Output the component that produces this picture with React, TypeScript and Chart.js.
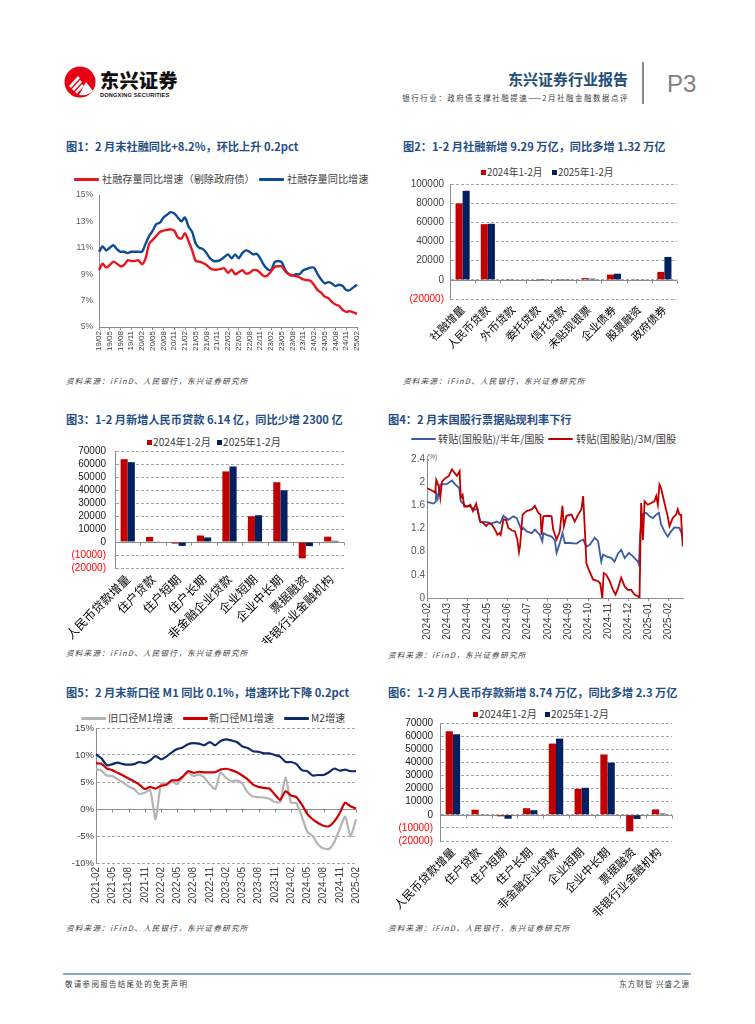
import React, { useEffect, useRef } from "react";
import { Chart, registerables } from "chart.js";

Chart.register(...registerables);

const SANS = "'Liberation Sans', 'Noto Sans CJK SC', sans-serif";
const NARROW = "'Liberation Sans Narrow', 'Liberation Sans', 'Noto Sans CJK SC', sans-serif";
const CJK = "'Noto Sans CJK SC', 'Liberation Sans', sans-serif";
const TITLE_COLOR = "#1F4E84";
const BAR_RED = "#C00000";
const BAR_NAVY = "#002060";

// ---------- Chart 1: 社融存量同比 ----------
const c1Months = [
  "19/02", "19/03", "19/04", "19/05", "19/06", "19/07", "19/08", "19/09", "19/10", "19/11", "19/12",
  "20/01", "20/02", "20/03", "20/04", "20/05", "20/06", "20/07", "20/08", "20/09", "20/10", "20/11", "20/12",
  "21/01", "21/02", "21/03", "21/04", "21/05", "21/06", "21/07", "21/08", "21/09", "21/10", "21/11", "21/12",
  "22/01", "22/02", "22/03", "22/04", "22/05", "22/06", "22/07", "22/08", "22/09", "22/10", "22/11", "22/12",
  "23/01", "23/02", "23/03", "23/04", "23/05", "23/06", "23/07", "23/08", "23/09", "23/10", "23/11", "23/12",
  "24/01", "24/02", "24/03", "24/04", "24/05", "24/06", "24/07", "24/08", "24/09", "24/10", "24/11", "24/12",
  "25/01", "25/02",
];
const c1ExGov = [
  9.3, 9.8, 9.5, 9.7, 9.95, 9.8, 9.6, 9.7, 10.05, 10.0, 10.0,
  10.05, 9.75, 10.2, 11.3, 11.6, 11.9, 12.2, 12.3, 12.35, 12.4, 12.3, 11.8,
  11.7, 12.1, 11.5, 10.8, 10.0, 9.95, 9.85, 9.7, 9.45, 9.35, 9.35, 9.4,
  9.45, 9.1, 9.35, 9.0, 9.15, 9.3, 9.05, 9.1, 9.3, 9.3, 9.1, 8.85,
  8.9, 9.2, 9.55, 9.6, 9.6, 9.2, 9.0, 8.9, 8.85, 8.75, 8.6, 8.55,
  8.5, 8.2, 7.8, 7.6, 7.3, 7.2, 6.9, 6.7, 6.6, 6.3, 6.15, 6.2,
  6.1, 6.0,
];
const c1Total = [
  10.7, 11.1, 10.8, 11.0, 11.2, 10.9, 10.7, 10.7, 10.6, 10.7, 10.7,
  10.7, 10.7, 11.3, 11.9, 12.3, 12.8, 12.9, 13.3, 13.5, 13.7, 13.6, 13.3,
  13.0, 13.3, 12.6, 12.2, 11.3, 11.0, 10.9, 10.6, 10.2, 10.0, 10.0, 10.1,
  10.3, 10.5, 10.2, 10.5, 10.2, 10.6, 10.8, 10.7, 10.5, 10.55, 10.2, 9.7,
  9.4, 9.3, 9.9, 10.0, 9.9, 9.3, 9.0, 8.9, 9.0, 9.0, 9.3, 9.4,
  9.5, 9.5, 9.0, 8.6, 8.3, 8.4, 8.3, 8.1, 8.2, 8.1, 7.8, 7.8,
  8.0, 8.2,
];

// ---------- Chart 2: 社融分项 ----------
const c2Cats = ["社融增量", "人民币贷款", "外币贷款", "委托贷款", "信托贷款", "未贴现银票", "企业债券", "股票融资", "政府债券"];
const c2Y2024 = [79700, 58100, 800, -300, 900, 1800, 5500, 700, 8300];
const c2Y2025 = [92900, 58500, -500, 100, 300, 1200, 6400, 600, 23900];

// ---------- Chart 3 / 6: 人民币贷款分项 ----------
const c3Cats = ["人民币贷款增量", "住户贷款", "住户短期", "住户长期", "非金融企业贷款", "企业短期", "企业中长期", "票据融资", "非银行业金融机构"];
const c3Y2024 = [63700, 3900, -1200, 5000, 54300, 19800, 46000, -12600, 4100];
const c3Y2025 = [61400, 500, -3000, 3500, 58100, 20600, 39800, -3200, 900];

// ---------- Chart 4: 票据贴现利率 ----------
const c4MonthLabels = ["2024-02", "2024-03", "2024-04", "2024-05", "2024-06", "2024-07", "2024-08", "2024-09", "2024-10", "2024-11", "2024-12", "2025-01", "2025-02"];
const c4YTicks = [0, 0.4, 0.8, 1.2, 1.6, 2, 2.4];
// [month offset from 2024-02, rate %]
const c4HalfYear: [number, number][] = [
  [0.0, 1.66], [0.33, 1.63], [0.43, 1.66], [0.46, 1.81], [0.53, 1.72], [0.66, 1.96], [0.99, 1.97], [1.24, 2.03],
  [1.4, 1.96], [1.6, 1.9], [1.68, 1.67], [1.9, 1.59], [2.15, 1.58], [2.39, 1.52], [2.51, 1.55], [2.64, 1.32],
  [2.97, 1.31], [3.22, 1.29], [3.47, 1.32], [3.63, 1.29], [3.8, 1.42], [4.04, 1.35], [4.29, 1.41], [4.46, 1.38],
  [4.62, 1.24], [4.7, 1.17], [4.79, 1.21], [4.95, 1.15], [5.2, 1.12], [5.36, 1.18], [5.61, 1.09], [5.73, 0.98],
  [5.78, 1.12], [5.94, 1.09], [6.19, 1.06], [6.35, 1.0], [6.44, 0.78], [6.6, 0.95], [6.73, 1.12], [6.85, 0.95],
  [7.1, 0.95], [7.43, 0.94], [7.59, 0.98], [7.76, 1.01], [7.92, 0.89], [8.09, 0.92], [8.33, 1.04], [8.5, 0.98],
  [8.66, 0.63], [8.75, 0.75], [8.91, 0.72], [9.16, 0.69], [9.32, 0.63], [9.49, 0.77], [9.65, 0.83], [9.82, 0.69],
  [10.03, 0.78], [10.23, 0.72], [10.48, 0.63], [10.53, 0.58], [10.59, 1.1], [10.69, 1.44], [10.89, 1.47], [11.06, 1.41],
  [11.22, 1.38], [11.39, 1.44], [11.52, 1.47], [11.63, 1.27], [11.8, 1.15], [11.96, 1.06], [12.13, 1.15], [12.29, 1.22],
  [12.54, 1.21], [12.71, 1.06],
];
const c4ThreeMonth: [number, number][] = [
  [0.0, 1.9], [0.33, 1.84], [0.41, 1.82], [0.46, 2.04], [0.58, 1.93], [0.66, 1.73], [0.74, 2.01], [0.91, 2.07],
  [1.07, 2.1], [1.24, 2.22], [1.35, 2.17], [1.49, 2.11], [1.62, 2.19], [1.68, 1.73], [1.77, 1.78], [1.85, 1.58],
  [2.01, 1.58], [2.15, 1.61], [2.28, 1.5], [2.44, 1.63], [2.56, 1.44], [2.64, 1.32], [2.81, 1.29], [2.94, 1.24],
  [3.05, 1.29], [3.22, 1.27], [3.38, 1.18], [3.5, 1.09], [3.6, 1.12], [3.66, 1.09], [3.8, 1.36], [3.93, 1.35],
  [4.04, 1.21], [4.21, 1.17], [4.37, 1.15], [4.49, 1.01], [4.57, 0.79], [4.62, 0.89], [4.75, 1.44], [4.95, 1.5],
  [5.2, 1.53], [5.36, 1.59], [5.53, 1.47], [5.64, 1.44], [5.69, 1.09], [5.78, 1.41], [6.02, 1.42], [6.19, 1.41],
  [6.27, 1.18], [6.44, 1.01], [6.6, 1.15], [6.73, 1.59], [6.8, 1.24], [6.93, 1.42], [7.18, 1.44], [7.34, 1.32],
  [7.51, 1.44], [7.67, 1.53], [7.76, 1.76], [7.84, 1.2], [7.92, 0.6], [8.0, 0.52], [8.25, 0.32], [8.5, 0.29],
  [8.61, 0.25], [8.71, 0.0], [8.78, 0.43], [8.91, 0.4], [9.08, 0.29], [9.24, 0.14], [9.37, 0.06], [9.49, 0.17],
  [9.65, 0.35], [9.82, 0.2], [9.98, 0.14], [10.15, 0.14], [10.31, 0.06], [10.48, 0.03], [10.56, 0.0], [10.64, 1.64],
  [10.73, 1.0], [10.81, 1.67], [10.97, 1.61], [11.14, 1.64], [11.3, 1.67], [11.39, 1.76], [11.47, 1.61], [11.55, 1.96],
  [11.63, 1.9], [11.8, 1.64], [11.96, 1.41], [12.05, 1.24], [12.21, 1.38], [12.38, 1.44], [12.46, 1.53], [12.54, 1.44],
  [12.62, 1.44], [12.67, 1.12], [12.71, 0.89],
];

// ---------- Chart 5: M1 / M2 ----------
const c5Months = [
  "2021-02", "2021-03", "2021-04", "2021-05", "2021-06", "2021-07", "2021-08", "2021-09", "2021-10", "2021-11", "2021-12",
  "2022-01", "2022-02", "2022-03", "2022-04", "2022-05", "2022-06", "2022-07", "2022-08", "2022-09", "2022-10", "2022-11", "2022-12",
  "2023-01", "2023-02", "2023-03", "2023-04", "2023-05", "2023-06", "2023-07", "2023-08", "2023-09", "2023-10", "2023-11", "2023-12",
  "2024-01", "2024-02", "2024-03", "2024-04", "2024-05", "2024-06", "2024-07", "2024-08", "2024-09", "2024-10", "2024-11", "2024-12",
  "2025-01", "2025-02",
];
const c5OldM1 = [
  7.4, 7.1, 6.2, 6.1, 5.5, 4.9, 4.2, 3.7, 2.8, 3.0, 3.5,
  -1.9, 4.7, 4.7, 5.1, 4.6, 5.8, 6.7, 6.1, 6.4, 5.8, 4.6, 3.7,
  6.7, 5.8, 5.1, 5.3, 4.7, 3.1, 2.3, 2.2, 2.1, 1.9, 1.3, 1.3,
  5.9, 1.2, 1.1, -1.4, -4.2, -5.0, -6.6, -7.3, -7.4, -6.1, -3.7, -1.4,
  -5.1, -1.9,
];
const c5NewM1 = [
  8.45, 8.4, 7.5, 7.2, 6.7, 6.2, 5.65, 5.15, 4.5, 3.7, 4.1,
  3.8, 4.3, 4.5, 5.3, 5.3, 6.0, 7.0, 6.7, 6.9, 6.8, 6.8, 6.8,
  7.3, 7.45, 7.2, 6.8, 6.2, 5.5, 4.5, 4.1, 3.9, 3.8, 2.7, 1.7,
  3.3, 2.5, 2.2, 0.8, -0.9, -1.9, -2.6, -3.1, -3.2, -2.3, -0.75, 1.2,
  0.5, 0.1,
];
const c5M2 = [
  10.1, 9.4, 8.1, 8.3, 8.6, 8.3, 8.2, 8.3, 8.7, 8.5, 9.0,
  9.8, 9.2, 9.7, 10.5, 11.1, 11.4, 12.0, 12.2, 12.1, 11.8, 12.4, 11.8,
  12.6, 12.9, 12.7, 12.4, 11.6, 11.3, 10.7, 10.6, 10.3, 10.3, 10.0, 9.7,
  8.7, 8.7, 8.3, 7.2, 7.0, 6.2, 6.3, 6.3, 6.8, 7.5, 7.1, 7.3,
  7.0, 7.0,
];

// ---------- plugin: solid zero line with small ticks ----------
const zeroLinePlugin = {
  id: "zeroLine",
  beforeDatasetsDraw(chart: any, _args: any, opts: any) {
    if (!opts || !opts.enabled) return;
    const { ctx, chartArea } = chart;
    const x = chart.scales.x;
    const y = chart.scales.y;
    const py = Math.round(y.getPixelForValue(0)) + 0.5;
    ctx.save();
    ctx.strokeStyle = opts.color || "#808080";
    ctx.lineWidth = 1;
    ctx.beginPath();
    ctx.moveTo(chartArea.left, py);
    ctx.lineTo(chartArea.right, py);
    const len = opts.tickLen || 3;
    if (opts.mode === "between") {
      const n = x.ticks.length;
      for (let i = 1; i <= n; i++) {
        const px = Math.round(x.left + (x.width * i) / n) + 0.5;
        ctx.moveTo(px, py);
        ctx.lineTo(px, py + len);
      }
    } else if (opts.mode === "every") {
      for (let i = 0; i < x.ticks.length; i += opts.step) {
        const px = Math.round(x.getPixelForTick(i)) + 0.5;
        ctx.moveTo(px, py);
        ctx.lineTo(px, py + len);
      }
    }
    ctx.stroke();
    ctx.restore();
  },
};

const baseOpts = (padding: any) => ({
  animation: false,
  responsive: false,
  events: [],
  layout: { padding },
  plugins: { legend: { display: false }, tooltip: { enabled: false } },
});

function fixX(h: number) {
  return (s: any) => {
    s.height = h;
    s.paddingLeft = 0;
    s.paddingRight = 0;
  };
}
function fixY(w: number) {
  return (s: any) => {
    s.width = w;
    s.paddingTop = 0;
    s.paddingBottom = 0;
  };
}
const negLabel = (v: number) => (v < 0 ? `(${-v})` : `${v}`);

function chart1Config(): any {
  return {
    type: "line",
    data: {
      labels: c1Months,
      datasets: [
        { label: "社融存量同比增速（剔除政府债）", data: c1ExGov, borderColor: "#E8161E", borderWidth: 2.4, pointRadius: 0, tension: 0.25, order: 1 },
        { label: "社融存量同比增速", data: c1Total, borderColor: "#0E4C96", borderWidth: 2.4, pointRadius: 0, tension: 0.25, order: 2 },
      ],
    },
    options: {
      ...baseOpts({ top: 9, right: 10, left: 0, bottom: 0 }),
      scales: {
        x: {
          offset: false,
          grid: { display: true, drawOnChartArea: false, drawTicks: true, tickLength: 3, color: (c: any) => (c.index % 3 === 0 ? "#8C8C8C" : "rgba(0,0,0,0)") },
          border: { display: true, color: "#8C8C8C" },
          ticks: { autoSkip: false, minRotation: 90, maxRotation: 90, padding: 1, color: "#404040", font: { family: NARROW, size: 8 }, callback: (_v: any, i: number) => (i % 3 === 0 ? c1Months[i] : "") },
          afterFit: fixX(31),
        },
        y: {
          min: 5,
          max: 15,
          ticks: { autoSkip: false, stepSize: 2, padding: 6, color: "#595959", font: { family: NARROW, size: 8.5 }, callback: (v: any) => `${v}%` },
          grid: { display: false, drawTicks: false },
          border: { display: true, color: "#8C8C8C" },
          afterFit: fixY(37),
        },
      },
    },
    plugins: [],
  };
}

function barConfig(cats: string[], a: number[], b: number[], opt: any): any {
  return {
    type: "bar",
    data: {
      labels: cats,
      datasets: [
        { label: "2024年1-2月", data: a, backgroundColor: BAR_RED, barPercentage: 1, categoryPercentage: opt.catPct },
        { label: "2025年1-2月", data: b, backgroundColor: BAR_NAVY, barPercentage: 1, categoryPercentage: opt.catPct },
      ],
    },
    options: {
      ...baseOpts(opt.padding),
      plugins: { legend: { display: false }, tooltip: { enabled: false }, zeroLine: { enabled: true, mode: "between", color: "#8C8C8C", tickLen: 3 } },
      scales: {
        x: {
          grid: { display: false, drawTicks: false },
          border: { display: false },
          ticks: { autoSkip: false, minRotation: 45, maxRotation: 45, padding: opt.xPad, color: "#000", font: { family: CJK, size: opt.xFont } },
          afterFit: fixX(opt.xH),
        },
        y: {
          min: opt.min,
          max: opt.max,
          ticks: {
            autoSkip: false,
            stepSize: opt.step,
            padding: opt.yPad,
            color: (c: any) => (c.tick && c.tick.value < 0 ? "#FF0000" : opt.yColor),
            font: { family: SANS, size: opt.yFont },
            callback: (v: any) => negLabel(v),
          },
          grid: { display: true, drawTicks: false, color: "#A6A6A6", lineWidth: 1 },
          border: { display: true, color: "#8C8C8C", dash: [3, 2] },
          afterFit: fixY(opt.yW),
        },
      },
    },
    plugins: [zeroLinePlugin],
  };
}

function chart4Config(): any {
  return {
    type: "line",
    data: {
      datasets: [
        { label: "转贴(国股贴)/3M/国股", data: c4ThreeMonth.map(([x, y]) => ({ x, y })), borderColor: "#C00000", borderWidth: 1.8, pointRadius: 0, tension: 0, order: 1 },
        { label: "转贴(国股贴)/半年/国股", data: c4HalfYear.map(([x, y]) => ({ x, y })), borderColor: "#3A5BA5", borderWidth: 1.8, pointRadius: 0, tension: 0, order: 2 },
      ],
    },
    options: {
      ...baseOpts({ top: 9, right: 7, left: 0, bottom: 0 }),
      scales: {
        x: {
          type: "linear",
          min: 0,
          max: 12.72,
          afterBuildTicks: (s: any) => {
            s.ticks = c4MonthLabels.map((_l, i) => ({ value: i }));
          },
          grid: { display: true, drawOnChartArea: false, drawTicks: true, tickLength: 3, color: "#8C8C8C" },
          border: { display: true, color: "#8C8C8C" },
          ticks: { autoSkip: false, minRotation: 90, maxRotation: 90, padding: 2, color: "#404040", font: { family: SANS, size: 10 }, callback: (v: any) => c4MonthLabels[Math.round(v)] ?? "" },
          afterFit: fixX(42),
        },
        y: {
          min: 0,
          max: 2.4,
          afterBuildTicks: (s: any) => {
            s.ticks = c4YTicks.map((v) => ({ value: v }));
          },
          ticks: { autoSkip: false, padding: 2, color: "#595959", font: { family: SANS, size: 10 }, callback: (v: any) => `${Math.round(v * 10) / 10}` },
          grid: { display: false, drawTicks: false },
          border: { display: true, color: "#8C8C8C" },
          afterFit: fixY(42),
        },
      },
    },
    plugins: [],
  };
}

function chart5Config(): any {
  return {
    type: "line",
    data: {
      labels: c5Months,
      datasets: [
        { label: "M2增速", data: c5M2, borderColor: "#0D2A6B", borderWidth: 2.2, pointRadius: 0, tension: 0.2, order: 1 },
        { label: "新口径M1增速", data: c5NewM1, borderColor: "#D00000", borderWidth: 2.2, pointRadius: 0, tension: 0.2, order: 2 },
        { label: "旧口径M1增速", data: c5OldM1, borderColor: "#B4B4B4", borderWidth: 2.2, pointRadius: 0, tension: 0.2, order: 3 },
      ],
    },
    options: {
      ...baseOpts({ top: 8, right: 6, left: 0, bottom: 0 }),
      plugins: { legend: { display: false }, tooltip: { enabled: false }, zeroLine: { enabled: true, mode: "every", step: 3, color: "#8C8C8C", tickLen: 3 } },
      scales: {
        x: {
          offset: false,
          grid: { display: false, drawTicks: false },
          border: { display: false },
          ticks: { autoSkip: false, minRotation: 90, maxRotation: 90, padding: 4, color: "#404040", font: { family: SANS, size: 10 }, callback: (_v: any, i: number) => (i % 3 === 0 ? c5Months[i] : "") },
          afterFit: fixX(49),
        },
        y: {
          min: -10,
          max: 15,
          ticks: { autoSkip: false, stepSize: 5, padding: 2, color: "#404040", font: { family: SANS, size: 9.5 }, callback: (v: any) => `${v}%` },
          grid: { display: true, drawTicks: false, color: (c: any) => (c.tick && c.tick.value === 0 ? "rgba(0,0,0,0)" : "#A6A6A6") },
          border: { display: true, color: "#8C8C8C", dash: [3, 2] },
          afterFit: fixY(34),
        },
      },
    },
    plugins: [zeroLinePlugin],
  };
}

function ChartBox({ left, top, width, height, config }: { left: number; top: number; width: number; height: number; config: () => any }) {
  const ref = useRef<HTMLCanvasElement | null>(null);
  useEffect(() => {
    if (!ref.current) return;
    const chart = new Chart(ref.current, config());
    return () => chart.destroy();
  }, []);
  return (
    <div style={{ position: "absolute", left, top, width, height }}>
      <canvas ref={ref} width={width} height={height} style={{ width, height, display: "block" }} />
    </div>
  );
}

function T({ x, y, size, children, style, right }: { x: number; y: number; size: number; children: any; style?: any; right?: boolean }) {
  const pos: any = right ? { right: 755 - x } : { left: x };
  return (
    <div style={{ position: "absolute", ...pos, top: y - size * 0.65, fontSize: size, lineHeight: `${size * 1.3}px`, whiteSpace: "nowrap", fontFamily: CJK, ...style }}>
      {children}
    </div>
  );
}

const LineMark = ({ x, y, w, color, h = 3 }: any) => (
  <div style={{ position: "absolute", left: x, top: y - h / 2, width: w, height: h, background: color, borderRadius: 1 }} />
);
const SqMark = ({ x, y, color, s = 5 }: any) => <div style={{ position: "absolute", left: x, top: y - s / 2, width: s, height: s, background: color }} />;

const Title = ({ x, y, children }: any) => (
  <T x={x} y={y} size={11.2} style={{ fontWeight: 700, color: TITLE_COLOR }}>
    {children}
  </T>
);
const Source = ({ x, y, children }: any) => (
  <T x={x} y={y} size={7.6} style={{ fontStyle: "italic", color: "#3A3A3A", letterSpacing: "1.2px" }}>
    {children}
  </T>
);
const LegText = ({ x, y, children, size = 10.2 }: any) => (
  <T x={x} y={y} size={size} style={{ color: "#404040" }}>
    {children}
  </T>
);

export default function App() {
  return (
    <div style={{ position: "absolute", left: 0, top: 0, width: 755, height: 1024, background: "#fff", overflow: "hidden", fontFamily: CJK }}>
      {/* Header */}
      <svg style={{ position: "absolute", left: 64, top: 66 }} width="32" height="32" viewBox="0 0 32 32">
        <circle cx="16" cy="16" r="15.5" fill="#E60012" />
        <path d="M5 20 L14 10 L16 12 L7 22 Z" fill="#fff" />
        <path d="M8 23 L16 14 L18 16 L10 25 Z" fill="#fff" />
        <path d="M11 26 L18 18 L20 20 L13 27.5 Z" fill="#fff" />
        <path d="M15 29 L22 16 L29 25 Q24 30 15 29 Z" fill="#fff" />
      </svg>
      <T x={100} y={80} size={19} style={{ fontWeight: 900, color: "#111", letterSpacing: "0.5px" }}>
        东兴证券
      </T>
      <T x={100} y={96} size={5.6} style={{ fontWeight: 700, color: "#111", fontFamily: SANS, letterSpacing: "0.2px" }}>
        DONGXING SECURITIES
      </T>
      <T x={628} y={79} size={15} right style={{ fontWeight: 700, color: "#1F4E79" }}>
        东兴证券行业报告
      </T>
      <T x={629} y={98} size={7.5} right style={{ color: "#404040", letterSpacing: "1.5px" }}>
        银行行业：政府债支撑社融提速——2月社融金融数据点评
      </T>
      <div style={{ position: "absolute", left: 642, top: 62, width: 1.5, height: 42, background: "#8C8C8C" }} />
      <T x={667} y={84} size={24} style={{ color: "#7F7F7F", fontFamily: NARROW }}>
        P3
      </T>

      {/* Chart 1 */}
      <Title x={66} y={146}>图1：2 月末社融同比+8.2%，环比上升 0.2pct</Title>
      <LineMark x={74} y={179} w={25} color="#E8161E" />
      <LegText x={102} y={179}>社融存量同比增速（剔除政府债）</LegText>
      <LineMark x={259} y={179} w={25} color="#0E4C96" />
      <LegText x={287} y={179}>社融存量同比增速</LegText>
      <ChartBox left={62} top={186} width={305} height={172} config={chart1Config} />
      <Source x={66} y={381}>资料来源：iFinD、人民银行，东兴证券研究所</Source>

      {/* Chart 2 */}
      <Title x={403} y={146}>图2：1-2 月社融新增 9.29 万亿，同比多增 1.32 万亿</Title>
      <SqMark x={481} y={172} color={BAR_RED} />
      <LegText x={487} y={172} size={9.8}>2024年1-2月</LegText>
      <SqMark x={552} y={172} color={BAR_NAVY} />
      <LegText x={558} y={172} size={9.8}>2025年1-2月</LegText>
      <ChartBox
        left={385}
        top={176}
        width={300}
        height={178}
        config={() =>
          barConfig(c2Cats, c2Y2024, c2Y2025, {
            catPct: 0.56,
            padding: { top: 8, right: 8, left: 0, bottom: 0 },
            xPad: 4,
            xFont: 11,
            xH: 55,
            min: -20000,
            max: 100000,
            step: 20000,
            yPad: 6,
            yFont: 10,
            yColor: "#404040",
            yW: 65,
          })
        }
      />
      <Source x={403} y={381}>资料来源：iFinD、人民银行，东兴证券研究所</Source>

      {/* Chart 3 */}
      <Title x={66} y={419}>图3：1-2 月新增人民币贷款 6.14 亿，同比少增 2300 亿</Title>
      <SqMark x={147} y={442} color={BAR_RED} />
      <LegText x={153} y={442}>2024年1-2月</LegText>
      <SqMark x={217} y={442} color={BAR_NAVY} />
      <LegText x={223} y={442}>2025年1-2月</LegText>
      <ChartBox
        left={62}
        top={443}
        width={290}
        height={200}
        config={() =>
          barConfig(c3Cats, c3Y2024, c3Y2025, {
            catPct: 0.56,
            padding: { top: 8, right: 8, left: 0, bottom: 0 },
            xPad: 4,
            xFont: 12,
            xH: 75,
            min: -20000,
            max: 70000,
            step: 10000,
            yPad: 9,
            yFont: 10,
            yColor: "#1A1A1A",
            yW: 53,
          })
        }
      />
      <Source x={66} y={653}>资料来源：iFinD、人民银行，东兴证券研究所</Source>

      {/* Chart 4 */}
      <Title x={388} y={419}>图4：2 月末国股行票据贴现利率下行</Title>
      <LineMark x={411} y={439} w={25} color="#3A5BA5" h={2.2} />
      <LegText x={438} y={439}>转贴(国股贴)/半年/国股</LegText>
      <LineMark x={548} y={439} w={25} color="#C00000" h={2.2} />
      <LegText x={576} y={439}>转贴(国股贴)/3M/国股</LegText>
      <ChartBox left={385} top={450} width={305} height={190} config={chart4Config} />
      <T x={427} y={457} size={6.5} style={{ color: "#595959", fontFamily: SANS }}>
        (%)
      </T>
      <Source x={388} y={655}>资料来源：iFinD，东兴证券研究所</Source>

      {/* Chart 5 */}
      <Title x={66} y={692}>图5：2 月末新口径 M1 同比 0.1%，增速环比下降 0.2pct</Title>
      <LineMark x={81} y={718} w={25} color="#B4B4B4" />
      <LegText x={108} y={718}>旧口径M1增速</LegText>
      <LineMark x={183} y={718} w={25} color="#D00000" />
      <LegText x={209} y={718}>新口径M1增速</LegText>
      <LineMark x={284} y={718} w={25} color="#0D2A6B" />
      <LegText x={311} y={718}>M2增速</LegText>
      <ChartBox left={62} top={720} width={300} height={192} config={chart5Config} />
      <Source x={66} y={928}>资料来源：iFinD、人民银行，东兴证券研究所</Source>

      {/* Chart 6 */}
      <Title x={388} y={692}>图6：1-2 月人民币存款新增 8.74 万亿，同比多增 2.3 万亿</Title>
      <SqMark x={473} y={714} color={BAR_RED} />
      <LegText x={479} y={714}>2024年1-2月</LegText>
      <SqMark x={545} y={714} color={BAR_NAVY} />
      <LegText x={551} y={714}>2025年1-2月</LegText>
      <ChartBox
        left={385}
        top={716}
        width={300}
        height={200}
        config={() =>
          barConfig(c3Cats, c3Y2024, c3Y2025, {
            catPct: 0.56,
            padding: { top: 7, right: 13, left: 0, bottom: 0 },
            xPad: 4,
            xFont: 11.5,
            xH: 75,
            min: -20000,
            max: 70000,
            step: 10000,
            yPad: 7,
            yFont: 10,
            yColor: "#1A1A1A",
            yW: 55,
          })
        }
      />
      <Source x={388} y={928}>资料来源：iFinD、人民银行，东兴证券研究所</Source>

      {/* Footer */}
      <div style={{ position: "absolute", left: 63, top: 973, width: 628, height: 2, background: "#8EA9C8" }} />
      <T x={65} y={984} size={7.5} style={{ color: "#404040", letterSpacing: "1.3px" }}>
        敬请参阅报告结尾处的免责声明
      </T>
      <T x={690} y={984} size={7.5} right style={{ color: "#404040", letterSpacing: "1px" }}>
        东方财智 兴盛之源
      </T>
    </div>
  );
}
